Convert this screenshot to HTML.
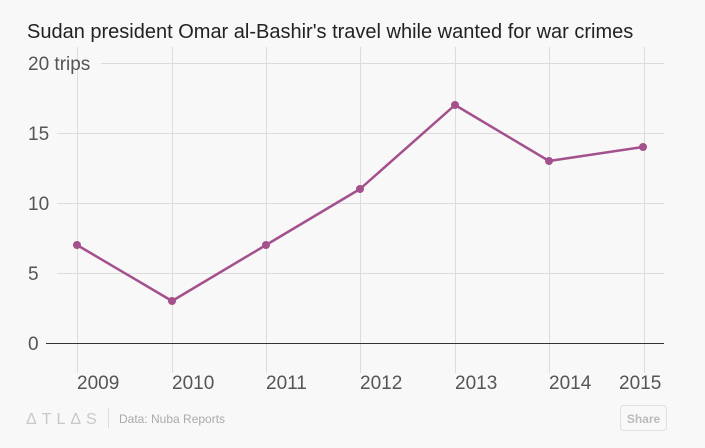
<!DOCTYPE html>
<html><head><style>
body{margin:0;background:#f8f8f8;}
svg{display:block;font-family:"Liberation Sans",sans-serif;}
</style></head><body>
<svg width="705" height="448" viewBox="0 0 705 448">
<rect width="705" height="448" fill="#f8f8f8"/>
<text x="27" y="38" font-size="20" fill="#222">Sudan president Omar al-Bashir's travel while wanted for war crimes</text>
<g stroke="#dcdcdc" stroke-width="1">
<line x1="77.5" y1="47" x2="77.5" y2="373"/>
<line x1="172.5" y1="47" x2="172.5" y2="373"/>
<line x1="266.5" y1="47" x2="266.5" y2="373"/>
<line x1="360.5" y1="47" x2="360.5" y2="373"/>
<line x1="455.5" y1="47" x2="455.5" y2="373"/>
<line x1="549.5" y1="47" x2="549.5" y2="373"/>
<line x1="644.5" y1="47" x2="644.5" y2="373"/>
<line x1="101" y1="63.5" x2="664" y2="63.5"/>
<line x1="57" y1="133.5" x2="664" y2="133.5"/>
<line x1="57" y1="203.5" x2="664" y2="203.5"/>
<line x1="57" y1="273.5" x2="664" y2="273.5"/>
</g>
<line x1="46" y1="343.5" x2="664" y2="343.5" stroke="#333" stroke-width="1"/>
<g font-size="19" fill="#555">
<text x="28" y="70">20 trips</text>
<text x="28" y="140">15</text>
<text x="28" y="210">10</text>
<text x="28" y="280">5</text>
<text x="28" y="350">0</text>
</g>
<g font-size="19" fill="#555">
<text x="77" y="389">2009</text>
<text x="172" y="389">2010</text>
<text x="266" y="389">2011</text>
<text x="360" y="389">2012</text>
<text x="455" y="389">2013</text>
<text x="549" y="389">2014</text>
<text x="619" y="389">2015</text>
</g>
<polyline fill="none" stroke="#a3508c" stroke-width="2.5" stroke-linejoin="round" points="77,245 172,301 266,245 360,189 455,105 549,161 643,147"/>
<g fill="#a3508c">
<circle cx="77" cy="245" r="4"/><circle cx="172" cy="301" r="4"/><circle cx="266" cy="245" r="4"/><circle cx="360" cy="189" r="4"/><circle cx="455" cy="105" r="4"/><circle cx="549" cy="161" r="4"/><circle cx="643" cy="147" r="4"/>
</g>
<text x="26" y="424" font-size="16" fill="#c8c8c8" letter-spacing="5">ΔTLΔS</text>
<line x1="108.5" y1="408" x2="108.5" y2="428" stroke="#ddd"/>
<text x="119" y="423" font-size="12" fill="#aaa">Data: Nuba Reports</text>
<rect x="620.5" y="405.5" width="46" height="25" rx="3" fill="#f8f8f8" stroke="#e0e0e0"/>
<text x="643.5" y="423" font-size="12" font-weight="bold" fill="#bbb" text-anchor="middle">Share</text>
</svg>
</body></html>
